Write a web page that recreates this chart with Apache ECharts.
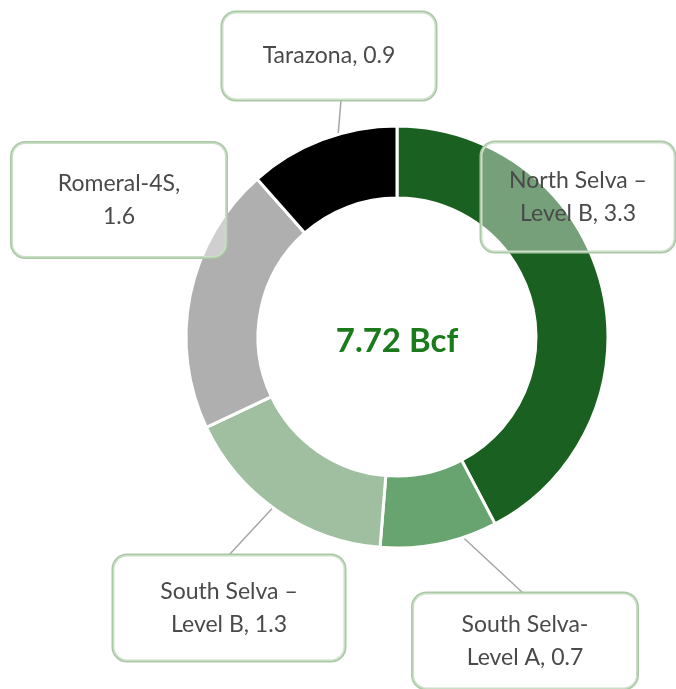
<!DOCTYPE html>
<html>
<head>
<meta charset="utf-8">
<script src="https://cdn.jsdelivr.net/npm/echarts@6/dist/echarts.min.js"></script>
<style>
  html, body { margin: 0; padding: 0; background: #fff; }
  #chart { width: 676px; height: 689px; }
</style>
</head>
<body>
<div id="chart"></div>
<script>
  // 数据
  var categories = ['North Selva –\nLevel B', 'South Selva-\nLevel A', 'South Selva –\nLevel B', 'Romeral-4S', 'Tarazona'];
  var values = [3.3, 0.7, 1.3, 1.6, 0.9];
  var separators = [', ', ', ', ', ', ',\n', ', '];
  var totalText = '7.72 Bcf';

  // 样式
  var colors = ['#1a6121', '#68a46f', '#a0bfa0', '#afafaf', '#000000'];
  var center = [397, 337];
  var lineH = 33;
  // 标签框位置 (中心点, 宽, 高) 和 引导线终点
  var boxes = [
    { cx: 578, cy: 197, w: 194, h: 110, end: null },
    { cx: 525, cy: 641, w: 225, h: 96, end: [523, 593] },
    { cx: 229, cy: 608, w: 232, h: 106, end: [229, 555] },
    { cx: 119, cy: 200, w: 215, h: 115, end: null },
    { cx: 329, cy: 56, w: 214, h: 88, end: [341, 100] }
  ];

  var total = values.reduce(function (a, b) { return a + b; }, 0);

  function labelText(i) {
    return categories[i] + separators[i] + values[i];
  }

  // 扇区中点角度上某半径处的点
  function midPoint(i, r) {
    var before = 0;
    for (var k = 0; k < i; k++) before += values[k];
    var ang = (before + values[i] / 2) / total * Math.PI * 2;
    return [center[0] + r * Math.sin(ang), center[1] - r * Math.cos(ang)];
  }

  var chart = echarts.init(document.getElementById('chart'));
  var option = {
    animation: false,
    graphic: [{
      type: 'text',
      x: center[0],
      y: 341,
      style: {
        text: totalText,
        fill: '#1b7a1b',
        font: 'bold 33px Lato',
        textAlign: 'center',
        textVerticalAlign: 'middle'
      }
    }],
    series: [{
      type: 'pie',
      center: center,
      radius: [139, 211],
      startAngle: 90,
      avoidLabelOverlap: false,
      itemStyle: { borderColor: '#fff', borderWidth: 3 },
      data: categories.map(function (name, i) {
        var b = boxes[i];
        var lines = labelText(i).split('\n').length;
        var padV = (b.h - lines * lineH) / 2;
        return {
          name: name,
          value: values[i],
          itemStyle: { color: colors[i] },
          label: { width: b.w, padding: [padV, 0, padV, 0] },
          labelLine: { show: !!b.end }
        };
      }),
      label: {
        show: true,
        position: 'outside',
        formatter: function (p) { return labelText(p.dataIndex); },
        fontFamily: 'Lato',
        fontSize: 23,
        lineHeight: lineH,
        color: '#4a4a4a',
        align: 'center',
        backgroundColor: 'rgba(255,255,255,0.4)',
        borderColor: '#a9c9a4',
        borderWidth: 1.5,
        borderRadius: 14
      },
      labelLine: {
        lineStyle: { color: '#a6a6a6', width: 1.5 }
      },
      labelLayout: function (params) {
        var i = params.dataIndex;
        var b = boxes[i];
        var res = { x: b.cx, y: b.cy, align: 'center', verticalAlign: 'middle' };
        if (b.end) {
          var s = midPoint(i, 175);
          res.labelLinePoints = [s, [(s[0] + b.end[0]) / 2, (s[1] + b.end[1]) / 2], b.end];
        }
        return res;
      }
    }]
  };
  chart.setOption(option);
  window.onresize = chart.resize;
</script>
</body>
</html>
